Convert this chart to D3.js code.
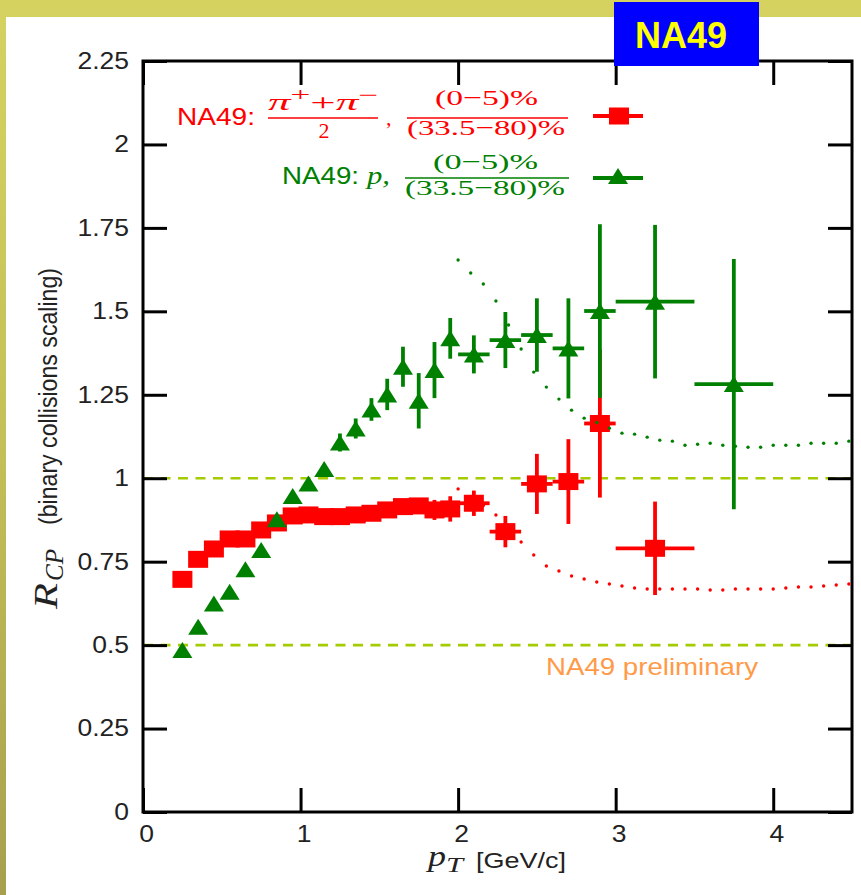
<!DOCTYPE html>
<html>
<head>
<meta charset="utf-8">
<script src="https://cdn.jsdelivr.net/npm/d3@7"></script>
<style>
  html, body { margin: 0; padding: 0; background: #fff; }
  svg { display: block; }
</style>
</head>
<body>
<div id="chart"></div>
<script>
// data
var xTicks = [0, 1, 2, 3, 4];
var yTicks = [0, 0.25, 0.5, 0.75, 1, 1.25, 1.5, 1.75, 2, 2.25];
var yTickLabels = ["0", "0.25", "0.5", "0.75", "1", "1.25", "1.5", "1.75", "2", "2.25"];
var refLines = [1, 0.5];

// pions (pi+ + pi-)/2, (0-5)%/(33.5-80)%
var piPt   = [0.25, 0.35, 0.45, 0.55, 0.65, 0.75, 0.85, 0.95, 1.05, 1.15, 1.25, 1.35, 1.45, 1.55, 1.65, 1.75, 1.85, 1.95, 2.1, 2.3, 2.5, 2.7, 2.9, 3.25];
var piRcp  = [0.697, 0.757, 0.788, 0.818, 0.818, 0.845, 0.866, 0.887, 0.890, 0.885, 0.885, 0.890, 0.895, 0.905, 0.915, 0.917, 0.905, 0.908, 0.925, 0.840, 0.983, 0.990, 1.164, 0.790];
var piErr  = [0, 0, 0, 0, 0, 0, 0, 0, 0, 0, 0, 0, 0, 0, 0.012, 0.015, 0.03, 0.038, 0.038, 0.047, 0.09, 0.127, 0.222, 0.14];
var piXErr = [0, 0, 0, 0, 0, 0, 0, 0, 0, 0, 0, 0, 0, 0, 0, 0, 0, 0, 0.1, 0.1, 0.1, 0.1, 0.1, 0.25];

// protons
var pPt   = [0.25, 0.35, 0.45, 0.55, 0.65, 0.75, 0.85, 0.95, 1.05, 1.15, 1.25, 1.35, 1.45, 1.55, 1.65, 1.75, 1.85, 1.95, 2.1, 2.3, 2.5, 2.7, 2.9, 3.25, 3.75];
var pRcp  = [0.485, 0.555, 0.625, 0.66, 0.727, 0.785, 0.877, 0.947, 0.984, 1.028, 1.107, 1.149, 1.206, 1.251, 1.334, 1.232, 1.324, 1.419, 1.371, 1.414, 1.429, 1.389, 1.501, 1.529, 1.282];
var pErr  = [0, 0, 0, 0, 0, 0, 0, 0, 0, 0, 0.027, 0.03, 0.034, 0.047, 0.06, 0.083, 0.084, 0.061, 0.057, 0.084, 0.11, 0.15, 0.26, 0.23, 0.375];
var pXErr = [0, 0, 0, 0, 0, 0, 0, 0, 0, 0, 0, 0, 0, 0, 0, 0, 0, 0, 0.1, 0.1, 0.1, 0.1, 0.1, 0.25, 0.25];

// dotted reference curves
var curvePt = [2.00, 2.08, 2.16, 2.24, 2.32, 2.40, 2.48, 2.56, 2.64, 2.72, 2.80, 2.88, 2.96, 3.04, 3.12, 3.20,
               3.28, 3.36, 3.44, 3.52, 3.60, 3.68, 3.76, 3.84, 3.92, 4.00, 4.08, 4.16, 4.24, 4.32, 4.40, 4.48];
var curveP  = [1.654, 1.615, 1.582, 1.531, 1.459, 1.387, 1.318, 1.273, 1.237, 1.204, 1.180, 1.167, 1.150, 1.135, 1.132, 1.123,
               1.114, 1.111, 1.099, 1.102, 1.105, 1.099, 1.096, 1.093, 1.093, 1.099, 1.099, 1.099, 1.105, 1.105, 1.105, 1.111];
var curvePi = [0.968, 0.945, 0.918, 0.890, 0.848, 0.809, 0.770, 0.737, 0.722, 0.707, 0.698, 0.689, 0.683, 0.677, 0.671, 0.668,
               0.668, 0.668, 0.668, 0.668, 0.665, 0.665, 0.668, 0.668, 0.668, 0.668, 0.671, 0.674, 0.674, 0.677, 0.680, 0.683];

var RED = "#ff0000", GREEN = "#008000";

var W = 861, H = 895;
var svg = d3.select("#chart").append("svg")
    .attr("width", W)
    .attr("height", H);

// slide background
var defs = svg.append("defs");
var grad = defs.append("linearGradient").attr("id", "bg")
    .attr("x1", 0).attr("y1", 0).attr("x2", 0).attr("y2", 1);
grad.append("stop").attr("offset", "0%").attr("stop-color", "#d6d260");
grad.append("stop").attr("offset", "50%").attr("stop-color", "#c4bf58");
grad.append("stop").attr("offset", "100%").attr("stop-color", "#a89f4e");
svg.append("rect").attr("width", W).attr("height", H).attr("fill", "url(#bg)");
svg.append("rect").attr("x", 6).attr("y", 17).attr("width", W - 6).attr("height", H - 17).attr("fill", "#fff");

// horizontal stretch of text (the figure is a bit wider than tall)
function stretch(sel, k) {
  sel.each(function() {
    var w = this.getComputedTextLength();
    d3.select(this).attr("textLength", w * k).attr("lengthAdjust", "spacingAndGlyphs");
  });
}

// scales
var x = d3.scaleLinear().domain([0, 4.5]).range([143, 852]);
var y = d3.scaleLinear().domain([0, 2.25]).range([812, 61]);

// dashed reference lines
svg.selectAll(".ref")
    .data(refLines)
  .enter().append("line")
    .attr("class", "ref")
    .attr("x1", x(0)).attr("x2", x(4.5))
    .attr("y1", function(d) { return y(d); })
    .attr("y2", function(d) { return y(d); })
    .style("stroke", "#a4cc00")
    .style("stroke-width", 2.6)
    .style("stroke-dasharray", "10,7.5");

// axes
var sans = "'Liberation Sans', Arial, sans-serif";
var serif = "'Liberation Serif', 'Times New Roman', serif";

var gx = svg.append("g")
    .attr("transform", "translate(0," + y(0) + ")")
    .call(d3.axisBottom(x).tickValues(xTicks).tickSizeInner(-24).tickSizeOuter(0)
          .tickPadding(14).tickFormat(d3.format("d")));
var gxt = svg.append("g")
    .attr("transform", "translate(0," + y(2.25) + ")")
    .call(d3.axisTop(x).tickValues(xTicks).tickSizeInner(-24).tickSizeOuter(0).tickFormat(""));
var gy = svg.append("g")
    .attr("transform", "translate(" + x(0) + ",0)")
    .call(d3.axisLeft(y).tickValues(yTicks).tickSizeInner(-24).tickSizeOuter(0)
          .tickPadding(14).tickFormat(function(d, i) { return yTickLabels[i]; }));
var gyr = svg.append("g")
    .attr("transform", "translate(" + x(4.5) + ",0)")
    .call(d3.axisRight(y).tickValues(yTicks).tickSizeInner(-24).tickSizeOuter(0).tickFormat(""));

[gx, gxt, gy, gyr].forEach(function(g) {
  g.select(".domain").remove();
  g.selectAll(".tick line").style("stroke", "#000").style("stroke-width", 3);
  g.selectAll(".tick text")
      .style("font-family", sans)
      .style("font-size", "23px")
      .style("fill", "#222");
});
gx.selectAll(".tick text").attr("dx", 3);
stretch(gx.selectAll(".tick text"), 1.15);
stretch(gy.selectAll(".tick text"), 1.15);

// frame
svg.append("rect")
    .attr("x", x(0)).attr("y", y(2.25))
    .attr("width", x(4.5) - x(0))
    .attr("height", y(0) - y(2.25))
    .style("fill", "none")
    .style("stroke", "#000")
    .style("stroke-width", 3);

// draw one data series: error bars then markers
function drawSeries(cls, pt, val, err, xerr, color, marker) {
  var data = pt.map(function(d, i) { return {x: d, y: val[i], e: err[i], xe: xerr[i]}; });
  var g = svg.append("g").attr("class", cls);
  g.selectAll(".ey")
      .data(data.filter(function(d) { return d.e > 0; }))
    .enter().append("line")
      .attr("x1", function(d) { return x(d.x); })
      .attr("x2", function(d) { return x(d.x); })
      .attr("y1", function(d) { return y(d.y - d.e); })
      .attr("y2", function(d) { return y(d.y + d.e); })
      .style("stroke", color).style("stroke-width", 3.8);
  g.selectAll(".ex")
      .data(data.filter(function(d) { return d.xe > 0; }))
    .enter().append("line")
      .attr("x1", function(d) { return x(d.x - d.xe); })
      .attr("x2", function(d) { return x(d.x + d.xe); })
      .attr("y1", function(d) { return y(d.y); })
      .attr("y2", function(d) { return y(d.y); })
      .style("stroke", color).style("stroke-width", 3.8);
  if (marker === "square") {
    g.selectAll(".m")
        .data(data)
      .enter().append("rect")
        .attr("x", function(d) { return x(d.x) - 10; })
        .attr("y", function(d) { return y(d.y) - 8.5; })
        .attr("width", 20).attr("height", 17)
        .style("fill", color);
  } else {
    g.selectAll(".m")
        .data(data)
      .enter().append("path")
        .attr("transform", function(d) { return "translate(" + x(d.x) + "," + y(d.y) + ")"; })
        .attr("d", "M-10,8L10,8L0,-8Z")
        .style("fill", color);
  }
}

drawSeries("pions", piPt, piRcp, piErr, piXErr, RED, "square");
drawSeries("protons", pPt, pRcp, pErr, pXErr, GREEN, "triangle");

// dotted curves
function drawCurve(vals, color) {
  svg.append("g").selectAll("circle")
      .data(curvePt.map(function(d, i) { return {x: d, y: vals[i]}; }))
    .enter().append("circle")
      .attr("cx", function(d) { return x(d.x); })
      .attr("cy", function(d) { return y(d.y); })
      .attr("r", 1.7)
      .style("fill", color);
}
drawCurve(curvePi, RED);
drawCurve(curveP, GREEN);

// legend
var leg = svg.append("g");
function legText(txt, xx, yy, size, color, family, style, len, anchor) {
  var t = leg.append("text")
      .attr("x", xx).attr("y", yy)
      .style("font-family", family)
      .style("font-size", size + "px")
      .style("font-style", style || "normal")
      .style("fill", color)
      .attr("text-anchor", anchor || "start")
      .text(txt);
  if (len) t.attr("textLength", len).attr("lengthAdjust", "spacingAndGlyphs");
  return t;
}
// red entry
legText("NA49:", 177, 125, 24, RED, sans, null, 78);
var num = leg.append("text")
    .attr("x", 268).attr("y", 110)
    .attr("textLength", 110).attr("lengthAdjust", "spacingAndGlyphs")
    .style("font-family", serif).style("font-size", "23px").style("fill", RED);
num.append("tspan").style("font-style", "italic").text("π");
num.append("tspan").attr("dy", -9).style("font-size", "18px").text("+");
num.append("tspan").attr("dy", 9).text("+");
num.append("tspan").style("font-style", "italic").text("π");
num.append("tspan").attr("dy", -9).style("font-size", "18px").text("−");
leg.append("line").attr("x1", 268).attr("x2", 378).attr("y1", 118).attr("y2", 118)
    .style("stroke", RED).style("stroke-width", 1.4);
legText("2", 324, 138, 22, RED, serif, null, null, "middle");
legText(",", 386, 125, 22, RED, serif);
legText("(0−5)%", 435, 105, 22, RED, serif, null, 103);
leg.append("line").attr("x1", 407).attr("x2", 568).attr("y1", 118).attr("y2", 118)
    .style("stroke", RED).style("stroke-width", 1.4);
legText("(33.5−80)%", 407, 135, 22, RED, serif, null, 158);
leg.append("line").attr("x1", 593).attr("x2", 643).attr("y1", 116).attr("y2", 116)
    .style("stroke", RED).style("stroke-width", 4);
leg.append("rect").attr("x", 609).attr("y", 107.5).attr("width", 20).attr("height", 17).style("fill", RED);

// green entry
legText("NA49:", 282, 184, 24, GREEN, sans, null, 77);
legText("p,", 367, 184, 26, GREEN, serif, "italic", 23);
legText("(0−5)%", 433, 169, 22, GREEN, serif, null, 105);
leg.append("line").attr("x1", 405).attr("x2", 569).attr("y1", 178).attr("y2", 178)
    .style("stroke", GREEN).style("stroke-width", 1.4);
legText("(33.5−80)%", 405, 195, 22, GREEN, serif, null, 160);
leg.append("line").attr("x1", 593).attr("x2", 643).attr("y1", 178).attr("y2", 178)
    .style("stroke", GREEN).style("stroke-width", 4);
leg.append("path").attr("transform", "translate(618,176)").attr("d", "M-10,8L10,8L0,-8Z").style("fill", GREEN);

// preliminary tag
svg.append("text")
    .attr("x", 546).attr("y", 675)
    .attr("textLength", 212).attr("lengthAdjust", "spacingAndGlyphs")
    .style("font-family", sans).style("font-size", "24px").style("fill", "#ff9a48")
    .text("NA49 preliminary");

// axis titles
svg.append("text")
    .attr("x", 428).attr("y", 866)
    .attr("textLength", 18).attr("lengthAdjust", "spacingAndGlyphs")
    .style("font-family", serif).style("font-style", "italic").style("font-size", "30px").style("fill", "#222")
    .text("p");
svg.append("text")
    .attr("x", 446).attr("y", 872)
    .attr("textLength", 17).attr("lengthAdjust", "spacingAndGlyphs")
    .style("font-family", serif).style("font-style", "italic").style("font-size", "20px").style("fill", "#222")
    .text("T");
svg.append("text")
    .attr("x", 476).attr("y", 868)
    .attr("textLength", 90).attr("lengthAdjust", "spacingAndGlyphs")
    .style("font-family", sans).style("font-size", "22px").style("fill", "#222")
    .text("[GeV/c]");

var yl = svg.append("g").attr("transform", "translate(57,609) rotate(-90) scale(1,1.15)");
yl.append("text").attr("x", 0).attr("y", 0)
    .attr("textLength", 26).attr("lengthAdjust", "spacingAndGlyphs")
    .style("font-family", serif).style("font-style", "italic").style("font-size", "30px").style("fill", "#222")
    .text("R");
yl.append("text").attr("x", 28).attr("y", 5)
    .attr("textLength", 32).attr("lengthAdjust", "spacingAndGlyphs")
    .style("font-family", serif).style("font-style", "italic").style("font-size", "22px").style("fill", "#222")
    .text("CP");
yl.append("text").attr("x", 84).attr("y", 0)
    .attr("textLength", 257).attr("lengthAdjust", "spacingAndGlyphs")
    .style("font-family", sans).style("font-size", "22px").style("fill", "#222")
    .text("(binary collisions scaling)");

// NA49 badge
svg.append("rect").attr("x", 614).attr("y", 2).attr("width", 145).attr("height", 64).style("fill", "#0000ff");
svg.append("text")
    .attr("x", 635).attr("y", 48)
    .attr("textLength", 92).attr("lengthAdjust", "spacingAndGlyphs")
    .style("font-family", sans).style("font-weight", "bold").style("font-size", "37px").style("fill", "#ffff00")
    .text("NA49");
</script>
</body>
</html>
